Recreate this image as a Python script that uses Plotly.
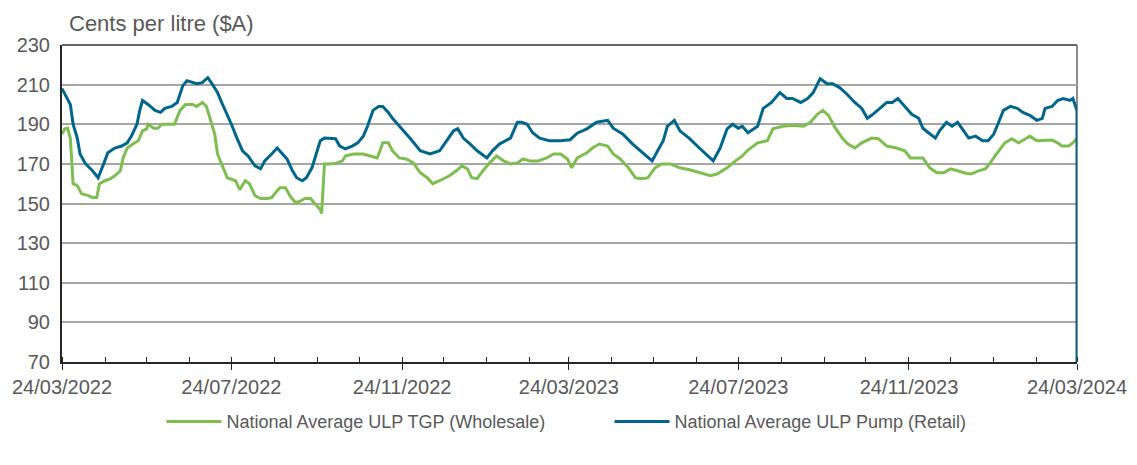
import pandas as pd
import plotly.graph_objects as go

START = "2022-03-24"

# Retail (pump) series: days since 24/03/2022 and cents per litre
retail_days = [0, 4, 6, 8, 11, 13, 17, 22, 26, 30, 33, 38, 43, 47, 50, 54, 56, 58, 62, 67,
               71, 74, 79, 83, 85, 87, 90, 94, 97, 101, 105, 108, 112, 115, 119, 122, 126, 130, 134, 139,
               143, 146, 151, 155, 158, 162, 166, 169, 173, 176, 180, 184, 186, 189, 193, 197, 200, 204, 209, 213,
               217, 220, 224, 228, 231, 235, 238, 242, 246, 251, 258, 265, 272, 277, 282, 285, 289, 294, 299, 306,
               310, 315, 323, 328, 331, 335, 339, 344, 351, 359, 366, 371, 378, 385, 393, 397, 404, 411, 418, 425,
               429, 433, 436, 439, 441, 445, 452, 459, 465, 469, 474, 479, 483, 487, 490, 494, 501, 505, 511, 517,
               522, 526, 532, 537, 541, 546, 551, 555, 560, 565, 571, 576, 580, 584, 589, 594, 598, 602, 607, 612,
               617, 620, 624, 629, 632, 637, 641, 645, 648, 653, 658, 663, 667, 671, 674, 678, 683, 688, 692, 697,
               702, 706, 708, 713, 717, 721, 726, 728, 731, 731]
retail_vals = [208, 203, 200, 190, 183, 175, 170, 166.5, 163, 170, 175.6, 178, 179, 180.6, 184, 190, 197, 202, 200, 197,
               196, 198, 199, 201, 205, 209.5, 212, 211, 210.5, 211, 213.5, 210.5, 206, 201, 195, 190, 183, 176.6, 174, 169,
               167.5, 171.5, 175, 178, 175.6, 172.5, 166.5, 163, 161.5, 163, 168, 176.6, 181.7, 183, 183, 182.7, 179, 177.6, 179, 180.6,
               184, 189, 197, 199, 199, 196, 193, 190, 186.7, 182.7, 176.6, 175, 176.6, 181.7, 186.7, 187.7, 183, 180, 176.6, 173,
               176.6, 180, 183, 191, 191, 190, 185.7, 183, 181.7, 181.7, 182.2, 185.5, 187.7, 191, 192, 188, 185, 180, 175.6, 171.5,
               176.6, 181.7, 189, 191, 192, 186.7, 182.7, 178, 174, 171.5, 178, 187.7, 190, 188, 189, 185.7, 189, 198, 201, 206,
               203, 203, 201, 203, 206, 213, 210.5, 210.5, 208.5, 205.4, 201, 198, 193, 195, 198, 201, 201, 203, 199, 195,
               193, 188, 185.7, 183, 186.7, 191, 189, 191, 188, 183, 184, 181.7, 181.7, 185, 190, 197, 199, 198, 196, 194.5,
               192, 193, 198, 199, 202, 203, 202, 203, 197, 0]

# Wholesale (TGP) series
tgp_days = [0, 2, 4, 6, 7, 8, 11, 14, 19, 22, 25, 27, 31, 35, 38, 42, 44, 47, 51, 55,
            58, 61, 62, 66, 69, 72, 76, 81, 85, 89, 94, 97, 101, 104, 107, 110, 112, 115, 119, 125,
            128, 132, 135, 139, 143, 148, 151, 155, 157, 161, 164, 168, 171, 175, 179, 182, 186, 187, 189, 193,
            198, 202, 204, 210, 217, 222, 227, 229, 231, 235, 238, 243, 248, 253, 258, 263, 267, 272, 279, 284,
            288, 292, 295, 299, 303, 308, 313, 318, 323, 328, 332, 337, 343, 349, 354, 359, 364, 367, 371, 378,
            382, 387, 393, 397, 402, 408, 413, 418, 422, 427, 432, 438, 445, 452, 459, 467, 472, 479, 485, 490,
            494, 501, 508, 512, 519, 526, 534, 539, 544, 548, 552, 557, 562, 566, 571, 576, 583, 588, 594, 601,
            607, 611, 617, 620, 625, 630, 635, 640, 645, 652, 655, 660, 665, 668, 672, 676, 679, 684, 689, 694,
            697, 702, 708, 713, 717, 720, 725, 728, 731]
tgp_vals = [185, 187.7, 188, 183, 171.5, 160, 159, 155, 154, 153, 153, 160, 161.5, 162.5, 164, 166.5, 173, 178, 180, 181.7,
            186.7, 187.7, 190, 188, 188, 190, 190, 190, 197, 200, 200, 199, 201, 199, 192, 185, 175, 170, 163, 161.5,
            157, 161.5, 160, 154, 152.5, 152.5, 153, 156.5, 158, 158, 154, 150.5, 151, 152.5, 152.5, 150, 147, 145, 170, 170,
            170.5, 171.5, 174, 175, 175, 174, 173, 176.6, 180.6, 180.6, 176.6, 173, 172.5, 170.5, 165.5, 163, 160, 161.5, 164, 166.5,
            169, 167.5, 163, 162.5, 166.5, 170.5, 174, 171.5, 170, 170.5, 172.5, 171.5, 171.5, 173, 175, 175, 172.5, 168, 173, 175.6,
            178, 180, 179, 175, 172.5, 168, 163, 162.5, 163, 168, 170, 170, 168, 167, 165.5, 164, 165, 168, 171.5, 174,
            177, 180.6, 181.7, 187.7, 189, 189.5, 189, 191, 195, 197, 194.5, 188, 183, 180, 178, 180.6, 183, 182.7, 179, 178,
            176.6, 173, 173, 173, 168, 165.5, 165.5, 167.5, 166.5, 165, 165, 166.5, 167.5, 170, 174, 177.6, 180.6, 182.7, 180.6, 182.7,
            184, 181.7, 181.7, 182, 180.6, 179, 179, 180.6, 183]

y_ticks = [70, 90, 110, 130, 150, 170, 190, 210, 230]

start = pd.Timestamp(START)
retail_dates = [start + pd.Timedelta(days=d) for d in retail_days]
tgp_dates = [start + pd.Timedelta(days=d) for d in tgp_days]
end = start + pd.Timedelta(days=731)

GREEN = "#7DBE4F"
BLUE = "#00668C"
TXT = "#595959"
FONT = "Liberation Sans, Arial, sans-serif"

fig = go.Figure()
fig.add_trace(go.Scatter(x=tgp_dates, y=tgp_vals, mode="lines",
                         name="National Average ULP TGP (Wholesale)",
                         line=dict(color=GREEN, width=3)))
fig.add_trace(go.Scatter(x=retail_dates, y=retail_vals, mode="lines",
                         name="National Average ULP Pump (Retail)",
                         line=dict(color=BLUE, width=3)))

fig.update_layout(
    width=1121, height=449,
    margin=dict(l=54, r=52, t=37, b=95, autoexpand=False),
    paper_bgcolor="white", plot_bgcolor="white",
    font=dict(family=FONT, color=TXT, size=19),
    showlegend=True,
    legend=dict(orientation="h", x=0.098, xanchor="left", y=-0.13, yanchor="top",
                font=dict(size=18, color=TXT), entrywidth=378, entrywidthmode="pixels",
                itemwidth=55, tracegroupgap=0),
    annotations=[dict(text="Cents per litre ($A)", xref="paper", yref="paper",
                      x=0.005, y=1.113, xanchor="left", yanchor="top",
                      showarrow=False, font=dict(size=22, color=TXT))],
    shapes=[dict(type="line", xref="paper", yref="paper", x0=1, x1=1, y0=0, y1=1,
                 line=dict(color="#8C8C8C", width=2), layer="below"),
            dict(type="line", xref="paper", yref="paper", x0=0, x1=1, y0=1, y1=1,
                 line=dict(color="#666666", width=2), layer="above")],
)

fig.update_xaxes(
    type="date", range=[start, end], automargin=False,
    tick0=START, dtick="M4", tickformat="%d/%m/%Y",
    showgrid=False, showline=True, linecolor="#262626", linewidth=2,
    mirror=False, ticks="outside", ticklen=6, tickcolor="#262626", tickwidth=1,
    tickfont=dict(size=20, color=TXT), ticklabelstandoff=0,
    minor=dict(dtick="M1", tick0=START, ticks="inside", ticklen=5,
               tickcolor="#262626", tickwidth=1, showgrid=False),
    zeroline=False,
)
fig.update_yaxes(
    range=[70, 230], tickvals=y_ticks, automargin=False,
    showgrid=True, gridcolor="#A6A6A6", gridwidth=2,
    showline=True, linecolor="#262626", linewidth=2,
    ticks="", tickfont=dict(size=20, color=TXT), ticklabelstandoff=6, zeroline=False,
)

fig.write_html("out.html")
